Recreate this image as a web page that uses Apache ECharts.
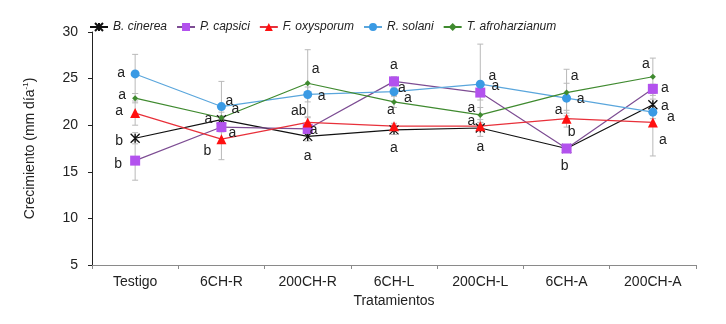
<!DOCTYPE html>
<html>
<head>
<meta charset="utf-8">
<script src="https://cdn.jsdelivr.net/npm/echarts@6/dist/echarts.min.js"></script>
<style>html,body{margin:0;padding:0;background:#fff}#c{width:726px;height:324px}</style>
</head>
<body>
<div id="c"></div>
<script>
// ---- data ----
const categories = ['Testigo', '6CH-R', '200CH-R', '6CH-L', '200CH-L', '6CH-A', '200CH-A'];
const seriesNames = ['B. cinerea', 'P. capsici', 'F. oxysporum', 'R. solani', 'T. afroharzianum'];
const bCinerea   = [18.6, 20.6, 18.8, 19.5, 19.7, 17.5, 22.2];
const pCapsici   = [16.2, 19.8, 19.6, 24.7, 23.5, 17.5, 23.9];
const fOxysporum = [21.3, 18.5, 20.3, 19.9, 19.9, 20.7, 20.3];
const rSolani    = [25.5, 22.0, 23.3, 23.6, 24.4, 22.9, 21.4];
const tAfro      = [22.9, 20.8, 24.5, 22.5, 21.1, 23.5, 25.2];
// standard errors (half-length of error bar)
const errBCinerea   = [0.6, 0.4, 0.5, 0.5, 0.9, 0.3, 0.6];
const errPCapsici   = [2.1, 0.5, 0.6, 0.5, 0.8, 0.4, 0.5];
const errFOxysporum = [1.3, 2.2, 0.5, 0.3, 0.4, 0.9, 3.6];
const errRSolani    = [2.1, 2.7, 0.8, 0.4, 4.3, 1.6, 0.7];
const errTAfro      = [0.5, 0.6, 3.6, 0.6, 0.8, 2.5, 2.0];
// significance letters
const letBCinerea   = ['b', 'a', 'a', 'a', 'a', 'b', 'a'];
const letPCapsici   = ['b', 'a', 'a', 'a', 'a', 'b', 'a'];
const letFOxysporum = ['a', 'b', 'ab', 'a', 'a', 'a', 'a'];
const letRSolani    = ['a', 'a', 'a', 'a', 'a', 'a', 'a'];
const letTAfro      = ['a', 'a', 'a', 'a', 'a', 'a', 'a'];
const yTicks = [5, 10, 15, 20, 25, 30];

// ---- layout of letters (pixel offsets from marker) ----
const offBCinerea   = [[-16, 3], [-13, 0], [0, 20], [0, 18], [0, 19], [5, -16], [12, 1]];
const offPCapsici   = [[-17, 4], [11, 6], [6, 1], [0, -16], [15, -6], [-2, 18], [12, -1]];
const offFOxysporum = [[-16, -2], [-14, 12], [-9, -11], [-3, -16], [-9, -5], [-8, -9], [10, 18]];
const offRSolani    = [[-14, -1], [8, -5], [14, 2], [8, -4], [12, -8], [14, 1], [18, 5]];
const offTAfro      = [[-13, -3], [14, -9], [8, -14], [14, -4], [-9, -7], [8, -16], [-7, -13]];

const values = [bCinerea, pCapsici, fOxysporum, rSolani, tAfro];
const errs = [errBCinerea, errPCapsici, errFOxysporum, errRSolani, errTAfro];
const lets = [letBCinerea, letPCapsici, letFOxysporum, letRSolani, letTAfro];
const offs = [offBCinerea, offPCapsici, offFOxysporum, offRSolani, offTAfro];

const FONT = 'Liberation Sans, Arial, sans-serif';
const styles = [
  {line: '#111111', fill: '#111111', symbol: 'path://M0,0L10,10M10,0L0,10M5,0L5,10', size: 9, border: '#111111', bw: 1.3},
  {line: '#7d4d93', fill: '#b352ee', symbol: 'rect', size: 10, border: '#b352ee', bw: 0},
  {line: '#e8303a', fill: '#ff1010', symbol: 'triangle', size: 10, border: '#ff1010', bw: 0},
  {line: '#5aa6dc', fill: '#3a9ae4', symbol: 'circle', size: 9, border: '#3a9ae4', bw: 0},
  {line: '#3f8a2f', fill: '#3f8a2f', symbol: 'diamond', size: 6, border: '#3f8a2f', bw: 0}
];

const series = [];
// error bars
values.forEach((vals, s) => {
  series.push({
    type: 'custom',
    name: 'err' + s,
    z: 1,
    silent: true,
    data: vals.map((v, i) => [i, v - errs[s][i], v + errs[s][i]]),
    renderItem: function (params, api) {
      const x = api.value(0);
      const lo = api.coord([x, api.value(1)]);
      const hi = api.coord([x, api.value(2)]);
      const cw = 3;
      const st = {stroke: '#b9b9b9', lineWidth: 1};
      return {
        type: 'group',
        children: [
          {type: 'line', shape: {x1: hi[0], y1: hi[1], x2: lo[0], y2: lo[1]}, style: st},
          {type: 'line', shape: {x1: hi[0] - cw, y1: hi[1], x2: hi[0] + cw, y2: hi[1]}, style: st},
          {type: 'line', shape: {x1: lo[0] - cw, y1: lo[1], x2: lo[0] + cw, y2: lo[1]}, style: st}
        ]
      };
    }
  });
});
// lines
values.forEach((vals, s) => {
  const st = styles[s];
  series.push({
    type: 'line',
    name: seriesNames[s],
    z: 3,
    symbol: st.symbol,
    symbolSize: st.size,
    showAllSymbol: true,
    lineStyle: {color: st.line, width: 1.2},
    itemStyle: {color: st.fill, borderColor: st.border, borderWidth: st.bw},
    emphasis: {disabled: true},
    data: vals.map((v, i) => ({
      value: v,
      label: {
        show: true,
        position: 'inside',
        offset: offs[s][i],
        formatter: lets[s][i],
        color: '#222',
        fontSize: 14,
        fontFamily: FONT
      }
    }))
  });
});

const chart = echarts.init(document.getElementById('c'), null, {renderer: 'canvas'});
chart.setOption({
  animation: false,
  backgroundColor: '#fff',
  textStyle: {fontFamily: FONT},
  legend: {
    data: seriesNames,
    left: 84,
    top: 16,
    itemWidth: 18,
    itemHeight: 10,
    itemGap: 9,
    textStyle: {fontStyle: 'italic', fontSize: 12, color: '#222', fontFamily: FONT}
  },
  grid: {left: 92, right: 30, top: 32, bottom: 59},
  xAxis: {
    type: 'category',
    data: categories,
    boundaryGap: true,
    name: 'Tratamientos',
    nameLocation: 'middle',
    nameGap: 29,
    nameTextStyle: {fontSize: 14, color: '#222'},
    axisLine: {lineStyle: {color: '#8a8a8a', width: 1}},
    axisTick: {show: true, length: 4, lineStyle: {color: '#8a8a8a'}},
    axisLabel: {fontSize: 14, color: '#222', margin: 10}
  },
  yAxis: {
    type: 'value',
    min: yTicks[0],
    max: yTicks[yTicks.length - 1],
    interval: 5,
    name: '{a|Crecimiento (mm día}{s|-1}{a|)}',
    nameLocation: 'middle',
    nameGap: 53,
    nameTextStyle: {
      rich: {
        a: {fontSize: 14, color: '#222', fontFamily: FONT, lineHeight: 17},
        s: {fontSize: 8, color: '#222', fontFamily: FONT, verticalAlign: 'top', lineHeight: 17, padding: [0, 0, 6, 0]}
      }
    },
    splitLine: {show: false},
    axisLine: {show: true, lineStyle: {color: '#222', width: 1}},
    axisTick: {show: true, length: 4, lineStyle: {color: '#222'}},
    axisLabel: {fontSize: 14, color: '#222', margin: 14}
  },
  series: series
});
</script>
</body>
</html>
